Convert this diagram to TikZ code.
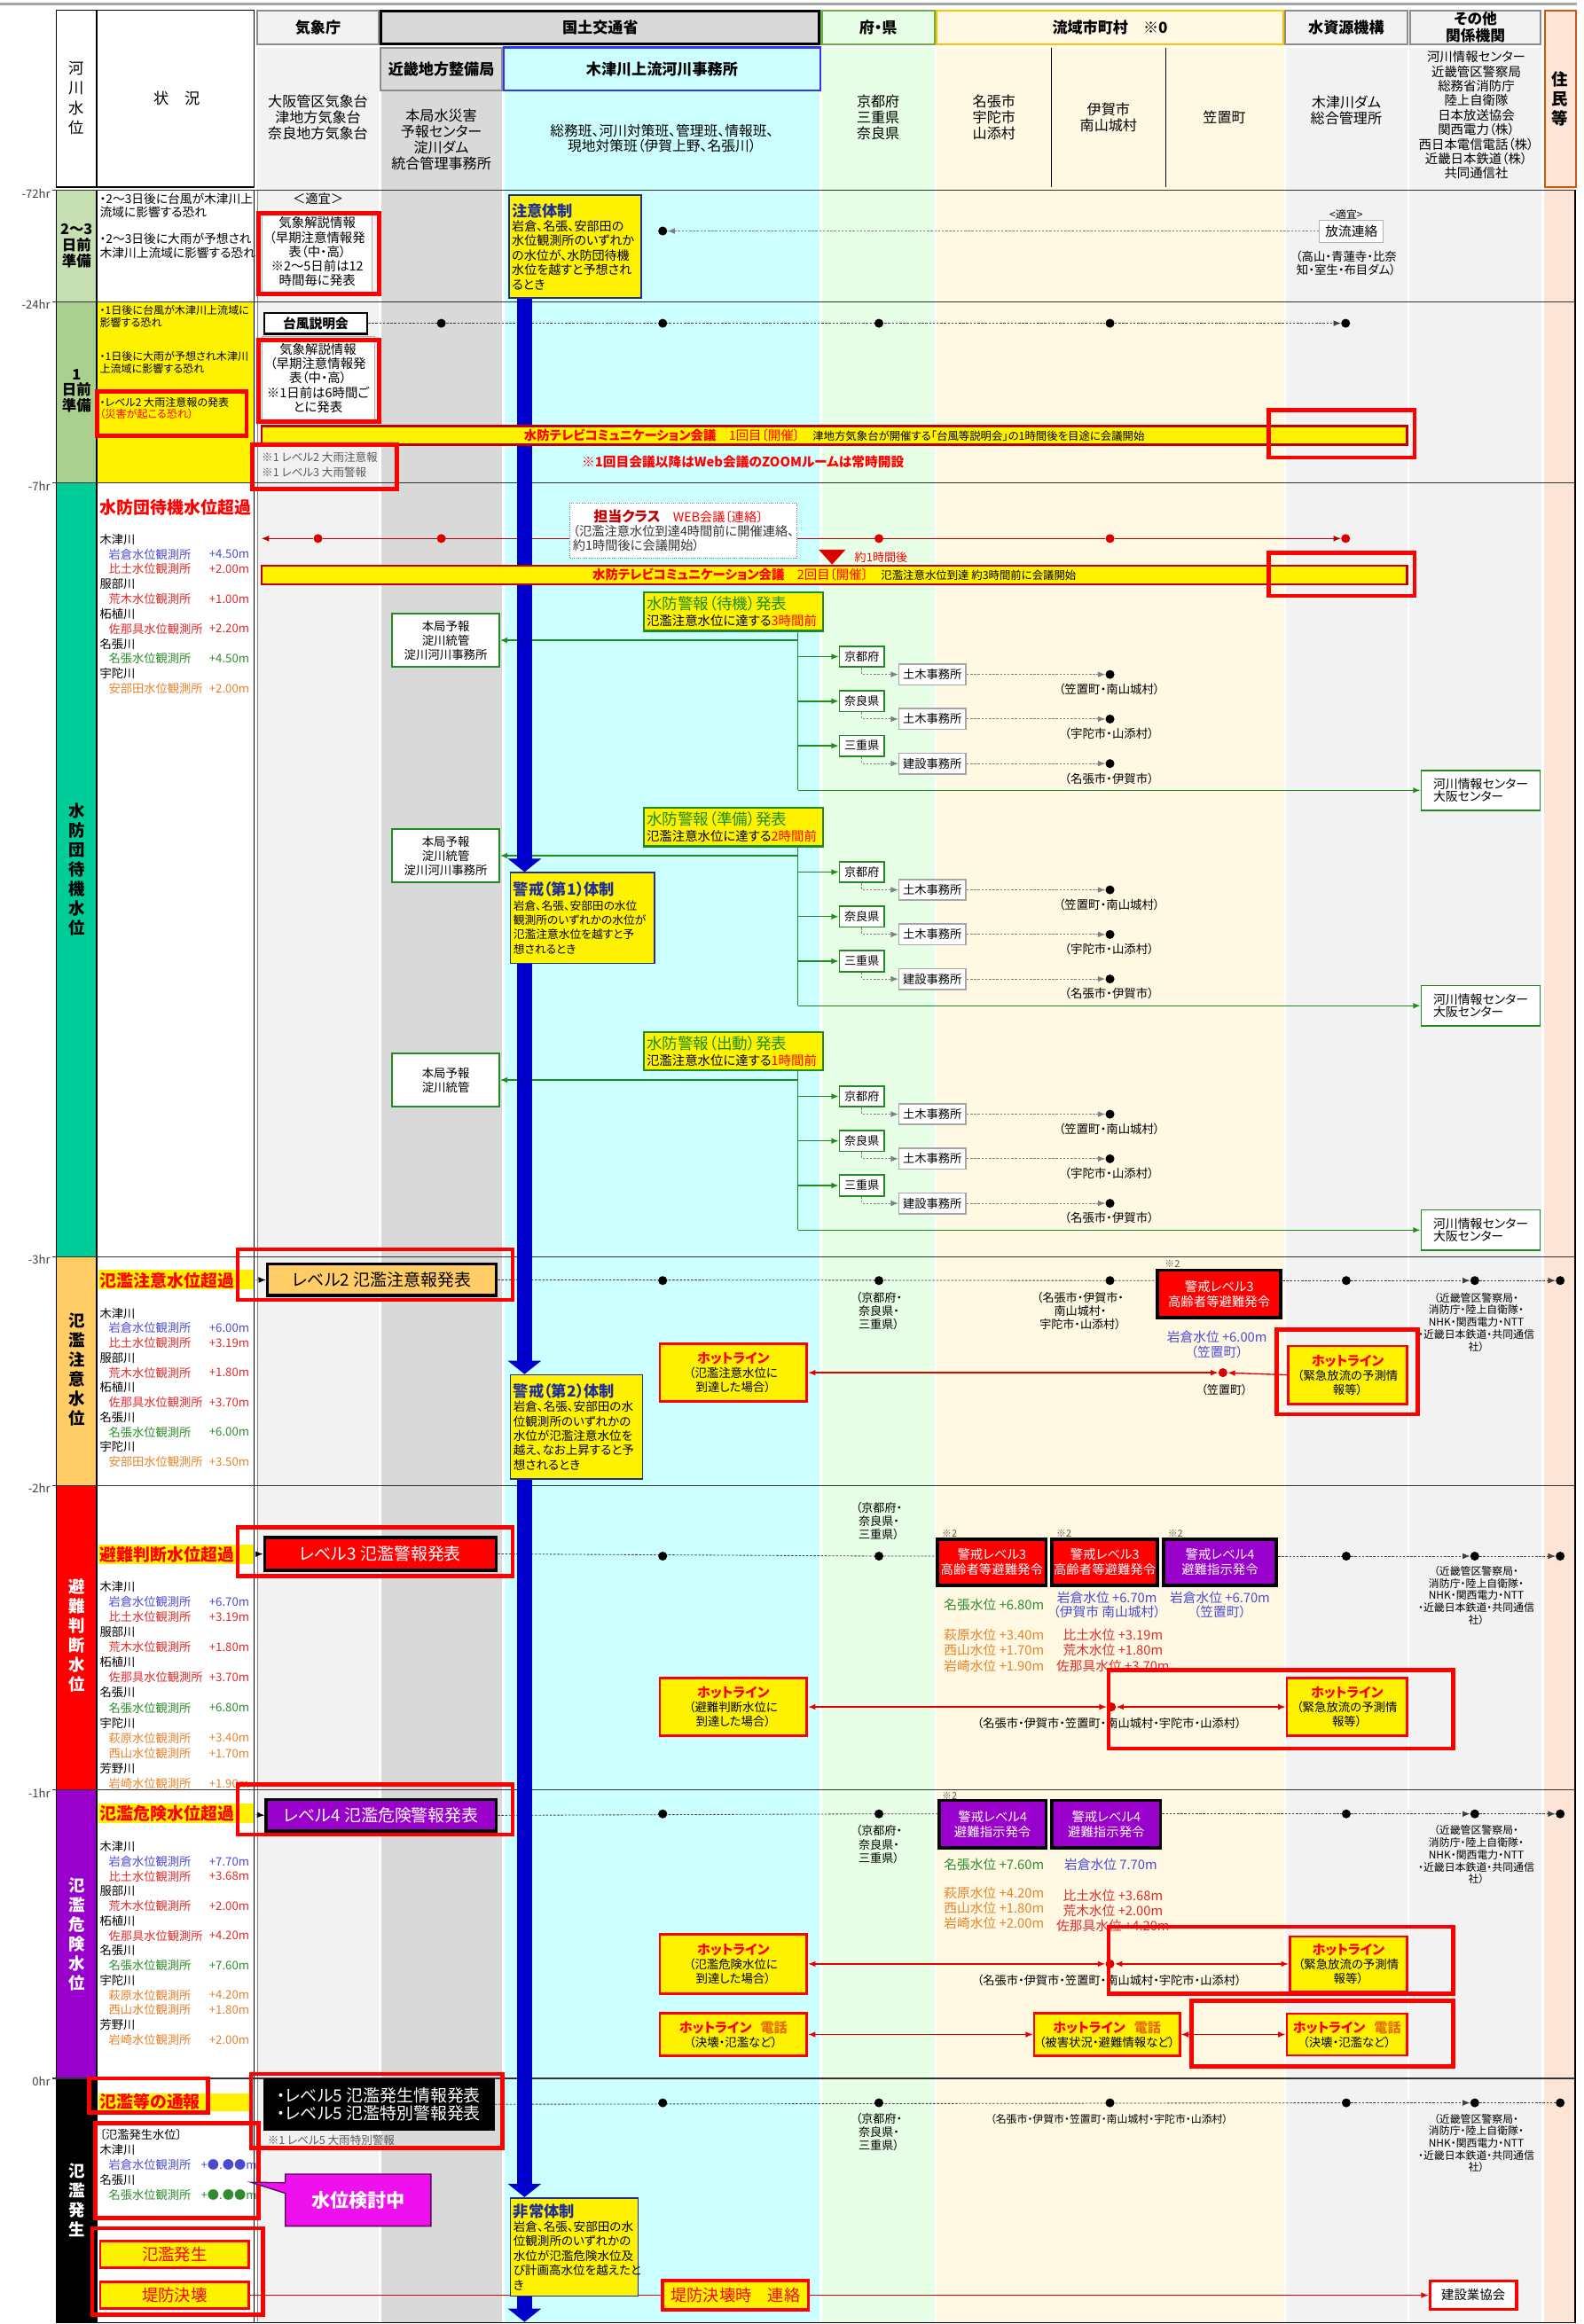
\documentclass[tikz,border=0pt]{standalone}
\usepackage{fontspec}
\setmainfont{Noto Sans CJK JP}[RawFeature=+palt]
\usetikzlibrary{arrows.meta,positioning,shapes.callouts}
\pgfdeclarelayer{cols}
\pgfdeclarelayer{under}
\pgfsetlayers{cols,under,main}

\definecolor{cjma}{HTML}{F2F2F2}
\definecolor{ckinki}{HTML}{D9D9D9}
\definecolor{ckizu}{HTML}{CCFFFF}
\definecolor{cpref}{HTML}{E6FFE6}
\definecolor{ccity}{HTML}{FFF9E3}
\definecolor{cres}{HTML}{FCE4D6}
\definecolor{cprefbd}{HTML}{70AD47}
\definecolor{ccitybd}{HTML}{FFC000}
\definecolor{cresbd}{HTML}{C55A11}
\definecolor{hdgray}{HTML}{8C8C8C}
\definecolor{lv0}{HTML}{C6E0B4}
\definecolor{lv1}{HTML}{A9D08E}
\definecolor{lv2}{HTML}{00CC99}
\definecolor{lv3}{HTML}{FFCC66}
\definecolor{lv4}{HTML}{FF0000}
\definecolor{lv5}{HTML}{9900CC}
\definecolor{ttlblue}{HTML}{1F2E99}
\definecolor{barblue}{HTML}{0000CC}
\definecolor{grn}{HTML}{1E8C1E}
\definecolor{dred}{HTML}{C00000}
\definecolor{stblue}{HTML}{4B4BD2}
\definecolor{stred}{HTML}{E02A2A}
\definecolor{stgrn}{HTML}{2E8B2E}
\definecolor{storg}{HTML}{E8822A}
\definecolor{tgray}{HTML}{595959}
\definecolor{telorg}{HTML}{E46C0A}
\definecolor{mag}{HTML}{EE11EE}

\newcommand{\fsz}[2]{\fontsize{#1pt}{#2pt}\selectfont}
\newcommand{\hotl}{{\bfseries\color{red}\fsz{9}{10}ホットライン}}
\newcommand{\telw}{{\bfseries\color{telorg}\fsz{9}{10}電話}}
\newcommand{\taititle}[1]{{\bfseries\color{ttlblue}\fsz{10.3}{11}#1}}
% station list: name, first y, step, x of values, entries
\newcommand{\stlist}[5]{%
  \foreach \dx/\cl/\nm/\val [count=\j from 0] in {#5} {
    \node[stn, text=\cl] (#1n\j) at (67+\dx,#2+\j*#3) {\nm};
    \node[stv, text=\cl] (#1v\j) at (#4,#2+\j*#3) {\val};
  }%
}

\tikzset{
  hdbox/.style    = {draw=hdgray, line width=1.3pt, inner sep=0pt, align=center, font=\bfseries\fsz{10.2}{11.5}},
  orgtxt/.style   = {inner sep=0pt, align=center, font=\fsz{9.6}{10.9}},
  lvlabel/.style  = {inner sep=0pt, align=center, font=\bfseries\fsz{11}{13.1}},
  hrlabel/.style  = {inner sep=0pt, anchor=east, font=\fsz{7.8}{8}, text=black!75},
  sit/.style      = {inner sep=0pt, anchor=west, align=left},
  stn/.style      = {inner sep=0pt, anchor=west, font=\fsz{7.9}{9}},
  stv/.style      = {inner sep=0pt, anchor=east, font=\fsz{7.9}{9}},
  headline/.style = {inner sep=0pt, anchor=west, font=\bfseries\fsz{11.3}{13}, text=red},
  redmark/.style  = {draw=red, line width=2.8pt},
  infobox/.style  = {draw=gray!60, fill=white, inner sep=1pt, align=center, font=\fsz{8.6}{9.7}},
  taisei/.style   = {draw=ttlblue, line width=1pt, fill=yellow, inner sep=2pt, anchor=north west, align=left, font=\fsz{8.4}{9.8}},
  band/.style     = {draw=dred, line width=1.4pt, fill=yellow, inner sep=0pt, font=\fsz{8.6}{9}},
  lvbox/.style    = {draw=black, line width=2pt, inner sep=0pt, font=\fsz{11.3}{12}},
  keibox/.style   = {draw=black, line width=2.2pt, inner sep=0pt, text=white, align=center, font=\fsz{8.6}{10}},
  hotbox/.style   = {draw=red, line width=1.6pt, fill=yellow, inner sep=0pt, align=center, font=\fsz{8}{9.6}},
  suibox/.style   = {draw=grn, line width=1.3pt, fill=yellow, inner sep=2pt, anchor=north west, align=left, text width=116.5pt, minimum height=26pt, font=\fsz{8.6}{11}},
  prefbox/.style  = {draw=grn, line width=1pt, fill=white, minimum width=30pt, minimum height=14pt, inner sep=0pt, font=\fsz{7.8}{9}},
  dobox/.style    = {draw=gray!70, line width=1pt, fill=white, minimum width=45pt, minimum height=14pt, inner sep=0pt, font=\fsz{7.9}{9}},
  greenbox/.style = {draw=grn, line width=1pt, fill=white, inner sep=0pt, align=center, font=\fsz{8}{9.6}},
  stw/.style      = {inner sep=0pt, align=center, font=\fsz{8.8}{10.2}},
  bdot/.style     = {circle, fill=black, inner sep=0pt, minimum size=6pt},
  rdot/.style     = {circle, fill=red!85!black, inner sep=0pt, minimum size=6pt},
  smalltxt/.style = {inner sep=0pt, align=center, font=\fsz{7.8}{9}},
  kinkitxt/.style = {inner sep=0pt, align=center, font=\fsz{7.1}{8.2}},
  note/.style     = {inner sep=0pt, font=\fsz{6.5}{7}, text=tgray},
  dotline/.style  = {black!75, line width=0.5pt, dash pattern=on 1.5pt off 1pt},
  dotg/.style     = {gray, line width=0.5pt, dash pattern=on 1.5pt off 1pt},
  redthin/.style  = {red!75!black, line width=0.5pt},
  redln/.style    = {red!90!black, line width=0.8pt},
  grnln/.style    = {grn, line width=0.9pt},
  arr/.style      = {-{Latex[length=5pt,width=4pt]}},
  biarr/.style    = {{Latex[length=5pt,width=4pt]}-{Latex[length=5pt,width=4pt]}},
  headarr/.style  = {gray!80, line width=0.6pt, dash pattern=on 3pt off 1.5pt on 1pt off 1.5pt, -{Latex[length=5pt,width=4pt,color=black]}},
  bluebar/.style  = {barblue, line width=10pt, -{Triangle[width=22pt,length=9pt]}},
}

\begin{document}
\begin{tikzpicture}[x=1pt,y=-1pt]
\useasboundingbox (0,0) rectangle (1066,1564.4);

\begin{pgfonlayer}{cols}
\fill[white] (0,0) rectangle (1066,1564.4);
\draw[gray!70, line width=2pt] (0,2.5) -- (1061,2.5);
\fill[cjma]   (173,32) rectangle (255,1564);
\fill[ckinki] (256.5,32) rectangle (338,1564);
\fill[ckizu]  (339.5,32) rectangle (551.5,1564);
\fill[cpref]  (553,32) rectangle (629,1564);
\fill[ccity]  (630.5,32) rectangle (864,1564);
\fill[cjma]   (865.5,32) rectangle (947,1564);
\fill[cjma]   (948.5,32) rectangle (1037.5,1564);
\fill[cres]   (1039,126) rectangle (1060,1564);
\fill[lv0] (38,128) rectangle (65,203);
\fill[lv1] (38,203) rectangle (65,325);
\fill[lv2] (38,325) rectangle (65,846);
\fill[lv3] (38,846) rectangle (65,1000);
\fill[lv4] (38,1000) rectangle (65,1205);
\fill[lv5] (38,1205) rectangle (65,1399);
\fill[black] (38,1399) rectangle (65,1564);
\fill[yellow] (65,203) rectangle (171,325);
\draw[line width=0.8pt] (38,7) rectangle (171,126) (65,7) -- (65,126);
\draw[line width=0.8pt] (38,128) -- (38,1564) (65,128) -- (65,1564) (171,128) -- (171,1564);
\draw[gray, line width=0.4pt] (173,128) -- (173,1564);
\draw[line width=0.6pt] (707.5,32) -- (707.5,126) (784.5,32) -- (784.5,126);
\foreach \y in {128,203,325,846,1000,1205,1399}
  \draw[black!80, line width=0.7pt] (35,\y) -- (1060,\y);
\draw[line width=0.7pt] (1060,128) -- (1060,1564) (38,1563.6) -- (1060,1563.6);
\end{pgfonlayer}

% header
\node[hdbox, fill=cjma, minimum width=82pt, minimum height=23pt] (hjma) at (214,18.5) {気象庁};
\node[hdbox, draw=black, line width=2pt, fill=ckinki, minimum width=295pt, minimum height=22pt] (hmlit) at (404,18.5) {国土交通省};
\node[hdbox, draw=cprefbd, fill=cpref, minimum width=76pt, minimum height=23pt] (hpref) at (591,18.5) {府・県};
\node[hdbox, draw=ccitybd, fill=ccity, minimum width=233pt, minimum height=23pt] (hcity) at (747,18.5) {流域市町村　※0};
\node[hdbox, fill=cjma, minimum width=82pt, minimum height=23pt] (hwater) at (906,18.5) {水資源機構};
\node[hdbox, fill=cjma, minimum width=88pt, minimum height=23pt, font=\bfseries\fsz{10}{11.5}] (hother) at (993,18.5) {その他\\関係機関};
\node[hdbox, draw=cresbd, fill=cres, minimum width=21pt, minimum height=119pt, font=\bfseries\fsz{11}{13}] (hres) at (1050,66.5) {住\\民\\等};
\node[hdbox, fill=ckinki, minimum width=82pt, minimum height=29pt] (hkinki) at (297,46.5) {近畿地方整備局};
\node[hdbox, draw=blue!80, line width=1.5pt, fill=ckizu, minimum width=213pt, minimum height=29pt] (hkizu) at (445.5,46.5) {木津川上流河川事務所};
\node[orgtxt] (tjma) at (214,79) {大阪管区気象台\\津地方気象台\\奈良地方気象台};
\node[orgtxt, font=\fsz{9.6}{10.7}] (tkinki) at (297,94) {本局水災害\\予報センター\\淀川ダム\\統合管理事務所};
\node[orgtxt, font=\fsz{9.4}{10}] (tkizu) at (445.5,93) {総務班、河川対策班、管理班、情報班、\\現地対策班（伊賀上野、名張川）};
\node[orgtxt] (tpref) at (591,79) {京都府\\三重県\\奈良県};
\node[orgtxt] (tcity1) at (669,79) {名張市\\宇陀市\\山添村};
\node[orgtxt] (tcity2) at (746,79) {伊賀市\\南山城村};
\node[orgtxt] (tcity3) at (824,79) {笠置町};
\node[orgtxt] (twater) at (906,74) {木津川ダム\\総合管理所};
\node[orgtxt, font=\fsz{8.6}{9.8}] (tother) at (993.5,77.5) {河川情報センター\\近畿管区警察局\\総務省消防庁\\陸上自衛隊\\日本放送協会\\関西電力（株）\\西日本電信電話（株）\\近畿日本鉄道（株）\\共同通信社};
\node[orgtxt, font=\fsz{10.3}{13.2}] (lhd) at (51.5,66) {河\\川\\水\\位};
\node[orgtxt, font=\fsz{10.3}{12}] (shd) at (119,66.5) {状　況};

% time marks and water levels
\node[hrlabel] (hr72) at (34,130) {-72hr};
\node[hrlabel] (hr24) at (34,205) {-24hr};
\node[hrlabel] (hr7) at (34,327) {-7hr};
\node[hrlabel] (hr3) at (34,848) {-3hr};
\node[hrlabel] (hr2) at (34,1002) {-2hr};
\node[hrlabel] (hr1) at (34,1207) {-1hr};
\node[hrlabel] (hr0) at (34,1401) {0hr};
\node[lvlabel, font=\bfseries\fsz{9.8}{10.6}] (l0) at (51.5,165.5) {2～3\\日前\\準備};
\node[lvlabel, font=\bfseries\fsz{9.8}{10.6}] (l1) at (51.5,263) {1\\日前\\準備};
\node[lvlabel] (l2) at (51.5,585) {水\\防\\団\\待\\機\\水\\位};
\node[lvlabel] (l3) at (51.5,922) {氾\\濫\\注\\意\\水\\位};
\node[lvlabel, text=white] (l4) at (51.5,1101) {避\\難\\判\\断\\水\\位};
\node[lvlabel, text=white] (l5) at (51.5,1302) {氾\\濫\\危\\険\\水\\位};
\node[lvlabel, text=white] (l6) at (51.5,1481) {氾\\濫\\発\\生};

% -72hr ~ -24hr
\node[sit, font=\fsz{8.2}{9}] (s1a) at (67,138.5) {・2～3日後に台風が木津川上\\流域に影響する恐れ};
\node[sit, font=\fsz{8.2}{9}] (s1b) at (67,165.5) {・2～3日後に大雨が予想され\\木津川上流域に影響する恐れ};
\node[smalltxt, font=\fsz{8.5}{9}] (tekigi1) at (214,134) {＜適宜＞};
\node[infobox, minimum width=74pt, minimum height=54pt] (kai1) at (213.5,169.5) {気象解説情報\\（早期注意情報発\\表（中・高）\\※2～5日前は12\\時間毎に発表};
\draw[redmark] (174,143.5) rectangle (255,198);
\node[taisei, text width=85pt, minimum height=69pt] (chui) at (342,131) {\taititle{注意体制}\\岩倉、名張、安部田の\\水位観測所のいずれか\\の水位が、水防団待機\\水位を越すと予想され\\るとき};
\node[bdot] (r1d1) at (446,155.5) {};
\node[smalltxt, font=\fsz{7.2}{8}] (tekigi2) at (906,144.5) {<適宜>};
\node[infobox, font=\fsz{8.8}{10}, minimum width=43pt, minimum height=15pt] (houryu) at (909.5,155.5) {放流連絡};
\node[smalltxt, font=\fsz{8}{9}] (dams) at (906,177) {（高山・青蓮寺・比奈\\知・室生・布目ダム）};

% -24hr ~ -7hr
\node[sit, font=\fsz{7.2}{8}] (s2a) at (67,213) {・1日後に台風が木津川上流域に\\影響する恐れ};
\node[sit, font=\fsz{7.2}{8}] (s2b) at (67,244) {・1日後に大雨が予想され木津川\\上流域に影響する恐れ};
\node[sit, font=\fsz{7.2}{8}] (s2c) at (67,275) {・レベル2 大雨注意報の発表\\\textcolor{red}{（災害が起こる恐れ）}};
\draw[redmark] (65.5,263.5) rectangle (166,293.5);
\node[infobox, draw=black, line width=1.5pt, font=\bfseries\fsz{8.8}{10}, minimum width=69pt, minimum height=14pt] (typhoon) at (212.5,217.6) {台風説明会};
\node[bdot] (r2d1) at (297,217.6) {};
\node[bdot] (r2d2) at (446,217.6) {};
\node[bdot] (r2d3) at (591.5,217.6) {};
\node[bdot] (r2d4) at (747,217.6) {};
\node[bdot] (r2d5) at (905.6,217.6) {};
\node[infobox, minimum width=76pt, minimum height=56pt] (kai2) at (214,254.5) {気象解説情報\\（早期注意情報発\\表（中・高）\\※1日前は6時間ご\\とに発表};
\draw[redmark] (174,229) rectangle (255,284);
\node[band, minimum width=771pt, minimum height=12.5pt] (tv1) at (561.5,293) {{\bfseries\textcolor{red}{水防テレビコミュニケーション会議}}\textcolor{red}{　1回目〔開催〕}　{\fsz{7.4}{9}津地方気象台が開催する「台風等説明会」の1時間後を目途に会議開始}};
\draw[redmark] (854,276) rectangle (952,308);
\node[sit, font=\fsz{7.5}{10}, text=tgray] (note1) at (176,313) {※1 レベル2 大雨注意報\\※1 レベル3 大雨警報};
\draw[redmark] (170,299.5) rectangle (267,329);
\node[inner sep=0pt, font=\bfseries\fsz{8.8}{10}, text=red] (zoomnote) at (500,311) {※1回目会議以降はWeb会議のZOOMルームは常時開設};

% -7hr ~ -3hr
\node[headline] (r3h) at (67,341.5) {水防団待機水位超過};
\stlist{r3}{363}{10.05}{168}{0/black/木津川/{}, 6/stblue/岩倉水位観測所/+4.50m, 6/stred/比土水位観測所/+2.00m, 0/black/服部川/{}, 6/stred/荒木水位観測所/+1.00m, 0/black/柘植川/{}, 6/stred/佐那具水位観測所/+2.20m, 0/black/名張川/{}, 6/stgrn/名張水位観測所/+4.50m, 0/black/宇陀川/{}, 6/storg/安部田水位観測所/+2.00m}
\coordinate (r3end) at (176,362.5);
\node[rdot] (r3d1) at (214,362.5) {};
\node[rdot] (r3d2) at (297,362.5) {};
\node[rdot] (r3d3) at (591.5,362.5) {};
\node[rdot] (r3d4) at (747,362.5) {};
\node[rdot] (r3d5) at (905.6,362.5) {};
\node[draw=gray, densely dotted, fill=white, inner sep=2pt, align=left, font=\fsz{8.5}{9.6}, text=black!80, minimum width=152pt, minimum height=37pt] (tanto) at (460,357) {\hspace*{14pt}{\bfseries\fsz{9.5}{10}\textcolor{dred}{担当クラス}}\textcolor{red}{　WEB会議〔連絡〕}\\（氾濫注意水位到達4時間前に開催連絡、\\約1時間後に会議開始）};
\fill[red!85!black] (551,370) -- (569,370) -- (560,380) -- cycle;
\node[inner sep=0pt, anchor=west, font=\fsz{7.8}{8}, text=red] (yaku1) at (575,375) {約1時間後};
\node[band, minimum width=771pt, minimum height=12.5pt] (tv2) at (561.5,387) {{\bfseries\textcolor{red}{水防テレビコミュニケーション会議}}\textcolor{red}{　2回目〔開催〕}　{\fsz{7.4}{9}氾濫注意水位到達 約3時間前に会議開始}};
\draw[redmark] (854,372) rectangle (952,401);
\foreach \ty/\g/\kind/\hrs/\hq in {398/a/待機/3/{本局予報\\淀川統管\\淀川河川事務所},543/b/準備/2/{本局予報\\淀川統管\\淀川河川事務所},694/c/出動/1/{本局予報\\淀川統管}} {
  \node[suibox] (sui\g) at (432.5,\ty) {{\color{grn}\fsz{10.5}{12}水防警報（\kind）発表}\\氾濫注意水位に達する\textcolor{red}{\hrs 時間前}};
  \coordinate (br\g) at (537,\ty+33);
  \coordinate (bt\g) at (537,\ty+134);
  \node[greenbox, minimum width=72pt, minimum height=36pt] (hq\g) at (300,\ty+33) {\hq};
  \node[prefbox] (kyo\g) at (580,\ty+44) {京都府};
  \node[prefbox] (nar\g) at (580,\ty+74) {奈良県};
  \node[prefbox] (mie\g) at (580,\ty+104) {三重県};
  \node[dobox] (do1\g) at (627.5,\ty+56) {土木事務所};
  \node[dobox] (do2\g) at (627.5,\ty+86) {土木事務所};
  \node[dobox] (do3\g) at (627.5,\ty+116) {建設事務所};
  \node[bdot] (e1\g) at (747,\ty+56) {};
  \node[bdot] (e2\g) at (747,\ty+86) {};
  \node[bdot] (e3\g) at (747,\ty+116) {};
  \node[smalltxt, font=\fsz{8}{9}] (f1\g) at (746.5,\ty+66) {（笠置町・南山城村）};
  \node[smalltxt, font=\fsz{8}{9}] (f2\g) at (746.5,\ty+96) {（宇陀市・山添村）};
  \node[smalltxt, font=\fsz{8}{9}] (f3\g) at (746.5,\ty+126) {（名張市・伊賀市）};
  \node[greenbox, minimum width=80pt, minimum height=27pt, align=left, font=\fsz{8.3}{8}] (rc\g) at (996.5,\ty+134) {河川情報センター\\大阪センター};
}
\node[taisei, text width=93pt, minimum height=61pt, font=\fsz{7.6}{9.8}] (kei1) at (343,587) {\taititle{警戒（第1）体制}\\岩倉、名張、安部田の水位\\観測所のいずれかの水位が\\氾濫注意水位を越すと予\\想されるとき};

% -3hr ~ -2hr
\fill[yellow] (66,855) rectangle (171,868);
\node[headline] (r4h) at (67,862) {氾濫注意水位超過};
\stlist{r4}{884}{10}{168}{0/black/木津川/{}, 6/stblue/岩倉水位観測所/+6.00m, 6/stred/比土水位観測所/+3.19m, 0/black/服部川/{}, 6/stred/荒木水位観測所/+1.80m, 0/black/柘植川/{}, 6/stred/佐那具水位観測所/+3.70m, 0/black/名張川/{}, 6/stgrn/名張水位観測所/+6.00m, 0/black/宇陀川/{}, 6/storg/安部田水位観測所/+3.50m}
\node[lvbox, fill=lv3, minimum width=154pt, minimum height=21pt] (lv2box) at (257,861.5) {レベル2 氾濫注意報発表};
\draw[redmark] (160,841) rectangle (345,875);
\node[bdot] (r4d1) at (446,862) {};
\node[bdot] (r4d2) at (591.5,862) {};
\node[bdot] (r4d3) at (747,862) {};
\node[keibox, fill=lv4, minimum width=83pt, minimum height=32pt] (r4k) at (820.5,871) {警戒レベル3\\高齢者等避難発令};
\node[bdot] (r4d4) at (906,862) {};
\node[bdot] (r4d5) at (992.5,862) {};
\node[bdot] (r4d6) at (1050,862) {};
\node[note] (r4n) at (789,851) {※2};
\node[smalltxt] (r4p) at (591.5,882.5) {（京都府・\\奈良県・\\三重県）};
\node[smalltxt] (r4c) at (727,882.5) {（名張市・伊賀市・\\南山城村・\\宇陀市・山添村）};
\node[kinkitxt] (r4o) at (993.5,890) {（近畿管区警察局・\\消防庁・陸上自衛隊・\\NHK・関西電力・NTT\\・近畿日本鉄道・共同通信\\社）};
\node[stw, font=\fsz{8.8}{10}, text=stblue] (r4w) at (819,905) {岩倉水位 +6.00m\\（笠置町）};
\node[hotbox, minimum width=99pt, minimum height=39pt] (r4hl) at (493.5,924) {\hotl\\（氾濫注意水位に\\到達した場合）};
\node[rdot] (r4kd) at (823,924) {};
\node[smalltxt] (r4kl) at (824,935.5) {（笠置町）};
\node[hotbox, minimum width=80pt, minimum height=39pt] (r4hr) at (907,925.5) {\hotl\\（緊急放流の予測情\\報等）};
\draw[redmark] (859,895) rectangle (954,952);
\node[taisei, text width=85pt, minimum height=70pt, font=\fsz{8.1}{9.8}] (kei2) at (343,925) {\taititle{警戒（第2）体制}\\岩倉、名張、安部田の水\\位観測所のいずれかの\\水位が氾濫注意水位を\\越え、なお上昇すると予\\想されるとき};

% -2hr ~ -1hr
\fill[yellow] (66,1040) rectangle (171,1053);
\node[headline] (r5h) at (67,1046.5) {避難判断水位超過};
\stlist{r5}{1068}{10.2}{168}{0/black/木津川/{}, 6/stblue/岩倉水位観測所/+6.70m, 6/stred/比土水位観測所/+3.19m, 0/black/服部川/{}, 6/stred/荒木水位観測所/+1.80m, 0/black/柘植川/{}, 6/stred/佐那具水位観測所/+3.70m, 0/black/名張川/{}, 6/stgrn/名張水位観測所/+6.80m, 0/black/宇陀川/{}, 6/storg/萩原水位観測所/+3.40m, 6/storg/西山水位観測所/+1.70m, 0/black/芳野川/{}, 6/storg/岩崎水位観測所/+1.90m}
\node[lvbox, fill=lv4, text=white, minimum width=156pt, minimum height=22pt] (lv3box) at (256,1046) {レベル3 氾濫警報発表};
\draw[redmark] (160,1028) rectangle (345,1061);
\node[bdot] (r5d1) at (446,1047.5) {};
\node[bdot] (r5d2) at (591.5,1047.5) {};
\node[keibox, fill=lv4, minimum width=73pt, minimum height=31pt] (r5ka) at (667.5,1051.5) {警戒レベル3\\高齢者等避難発令};
\node[keibox, fill=lv4, minimum width=71pt, minimum height=31pt] (r5kb) at (743.5,1051.5) {警戒レベル3\\高齢者等避難発令};
\node[keibox, fill=lv5, minimum width=76pt, minimum height=31pt] (r5kc) at (821,1051.5) {警戒レベル4\\避難指示発令};
\node[bdot] (r5d3) at (906,1047.5) {};
\node[bdot] (r5d4) at (992.5,1047.5) {};
\node[bdot] (r5d5) at (1050,1047.5) {};
\node[note] (r5na) at (639,1032.5) {※2};
\node[note] (r5nb) at (716,1032.5) {※2};
\node[note] (r5nc) at (791,1032.5) {※2};
\node[smalltxt] (r5p) at (591.5,1024) {（京都府・\\奈良県・\\三重県）};
\node[stw, text=stgrn] (r5wa) at (669,1080) {名張水位 +6.80m};
\node[stw, text=storg] (r5xa) at (669,1111) {萩原水位 +3.40m\\西山水位 +1.70m\\岩崎水位 +1.90m};
\node[stw, font=\fsz{8.8}{9.6}, text=stblue] (r5wb) at (745,1080.5) {岩倉水位 +6.70m\\（伊賀市 南山城村）};
\node[stw, text=stred] (r5xb) at (749,1111) {比土水位 +3.19m\\荒木水位 +1.80m\\佐那具水位 +3.70m};
\node[stw, font=\fsz{8.8}{9.6}, text=stblue] (r5wc) at (821,1080.5) {岩倉水位 +6.70m\\（笠置町）};
\node[kinkitxt] (r5o) at (993.5,1074) {（近畿管区警察局・\\消防庁・陸上自衛隊・\\NHK・関西電力・NTT\\・近畿日本鉄道・共同通信\\社）};
\node[hotbox, minimum width=99pt, minimum height=39pt] (r5hl) at (493.5,1149) {\hotl\\（避難判断水位に\\到達した場合）};
\node[rdot] (r5kd) at (748,1149) {};
\node[hotbox, minimum width=81pt, minimum height=39pt] (r5hr) at (906.5,1149) {\hotl\\（緊急放流の予測情\\報等）};
\node[smalltxt, font=\fsz{7.9}{8}] (r5cl) at (746.5,1160) {（名張市・伊賀市・笠置町・南山城村・宇陀市・山添村）};
\draw[redmark] (746,1124) rectangle (978,1177);

% -1hr ~ 0hr
\fill[yellow] (66,1214) rectangle (171,1227);
\node[headline] (r6h) at (67,1220.5) {氾濫危険水位超過};
\stlist{r6}{1243}{10}{168}{0/black/木津川/{}, 6/stblue/岩倉水位観測所/+7.70m, 6/stred/比土水位観測所/+3.68m, 0/black/服部川/{}, 6/stred/荒木水位観測所/+2.00m, 0/black/柘植川/{}, 6/stred/佐那具水位観測所/+4.20m, 0/black/名張川/{}, 6/stgrn/名張水位観測所/+7.60m, 0/black/宇陀川/{}, 6/storg/萩原水位観測所/+4.20m, 6/storg/西山水位観測所/+1.80m, 0/black/芳野川/{}, 6/storg/岩崎水位観測所/+2.00m}
\node[lvbox, fill=lv5, text=white, minimum width=155pt, minimum height=21pt] (lv4box) at (256.5,1222) {レベル4 氾濫危険警報発表};
\draw[redmark] (160,1201) rectangle (345,1235);
\node[bdot] (r6d1) at (446,1221) {};
\node[bdot] (r6d2) at (591.5,1221) {};
\node[keibox, fill=lv5, minimum width=72pt, minimum height=32pt] (r6ka) at (668,1228) {警戒レベル4\\避難指示発令};
\node[keibox, fill=lv5, minimum width=73pt, minimum height=32pt] (r6kb) at (744.5,1228) {警戒レベル4\\避難指示発令};
\node[bdot] (r6d3) at (906,1221) {};
\node[bdot] (r6d4) at (992.5,1221) {};
\node[bdot] (r6d5) at (1050,1221) {};
\node[note] (r6na) at (639,1209) {※2};
\node[smalltxt] (r6p) at (591.5,1241.5) {（京都府・\\奈良県・\\三重県）};
\node[stw, text=stgrn] (r6wa) at (669,1255) {名張水位 +7.60m};
\node[stw, text=storg] (r6xa) at (669,1284.3) {萩原水位 +4.20m\\西山水位 +1.80m\\岩崎水位 +2.00m};
\node[stw, text=stblue] (r6wb) at (747.5,1255) {岩倉水位 7.70m};
\node[stw, text=stred] (r6xb) at (749,1286) {比土水位 +3.68m\\荒木水位 +2.00m\\佐那具水位 +4.20m};
\node[kinkitxt] (r6o) at (993.5,1248.5) {（近畿管区警察局・\\消防庁・陸上自衛隊・\\NHK・関西電力・NTT\\・近畿日本鉄道・共同通信\\社）};
\node[hotbox, minimum width=99pt, minimum height=40pt] (r6hl) at (493.5,1322) {\hotl\\（氾濫危険水位に\\到達した場合）};
\node[rdot] (r6kd) at (747,1322) {};
\node[hotbox, minimum width=79pt, minimum height=37pt] (r6hr) at (907.5,1322) {\hotl\\（緊急放流の予測情\\報等）};
\node[smalltxt, font=\fsz{7.9}{8}] (r6cl) at (746.5,1333) {（名張市・伊賀市・笠置町・南山城村・宇陀市・山添村）};
\draw[redmark] (746,1297) rectangle (978,1342);
\node[hotbox, minimum width=99pt, minimum height=29pt] (r6tl) at (493.5,1369.5) {\hotl\hspace{6pt}\telw\\（決壊・氾濫など）};
\node[hotbox, minimum width=98pt, minimum height=29pt] (r6tm) at (745,1369.5) {\hotl\hspace{6pt}\telw\\（被害状況・避難情報など）};
\node[hotbox, minimum width=81pt, minimum height=28pt] (r6tr) at (906.5,1369.5) {\hotl\hspace{6pt}\telw\\（決壊・氾濫など）};
\draw[redmark] (802,1347) rectangle (978,1391);

% 0hr ~
\fill[yellow] (66,1409) rectangle (169,1421);
\node[headline] (r7h) at (67,1415) {氾濫等の通報};
\draw[redmark] (60,1399) rectangle (140,1422);
\stlist{r7}{1437}{10.2}{173}{0/black/〔氾濫発生水位〕/{}, 0/black/木津川/{}, 6/stblue/岩倉水位観測所/+●.●●m, 0/black/名張川/{}, 6/stgrn/名張水位観測所/+●.●●m}
\draw[redmark] (64,1429) rectangle (174,1493);
\node[lvbox, fill=black, text=white, minimum width=154pt, minimum height=33pt, align=left, font=\fsz{11.3}{10}] (lv5box) at (255,1416.5) {・レベル5 氾濫発生情報発表\\・レベル5 氾濫特別警報発表};
\node[sit, font=\fsz{7.5}{8}, text=tgray] (note5) at (180,1440.5) {※1 レベル5 大雨特別警報};
\draw[redmark] (169,1396) rectangle (338,1446);
\node[bdot] (r7d1) at (446,1415.5) {};
\node[bdot] (r7d2) at (591.5,1415.5) {};
\node[bdot] (r7d3) at (747,1415.5) {};
\node[bdot] (r7d4) at (906,1415.5) {};
\node[bdot] (r7d5) at (992.5,1415.5) {};
\node[bdot] (r7d6) at (1050,1415.5) {};
\node[smalltxt] (r7p) at (591.5,1435) {（京都府・\\奈良県・\\三重県）};
\node[smalltxt, font=\fsz{7.1}{8}] (r7c) at (746.5,1426.5) {（名張市・伊賀市・笠置町・南山城村・宇陀市・山添村）};
\node[kinkitxt] (r7o) at (993.5,1442.6) {（近畿管区警察局・\\消防庁・陸上自衛隊・\\NHK・関西電力・NTT\\・近畿日本鉄道・共同通信\\社）};
\coordinate (cpt) at (169,1469);
\node[rectangle callout, callout absolute pointer={(cpt)}, fill=mag, draw=violet!70!black, line width=0.8pt, minimum width=98pt, minimum height=35pt, inner sep=0pt, text=white, font=\bfseries\fsz{12.6}{14}] (kento) at (241,1481) {水位検討中};
\node[draw=red, line width=1.5pt, fill=yellow, text=red, minimum width=100pt, minimum height=18pt, inner sep=0pt, font=\fsz{11}{12}] (hanran) at (117.5,1517.5) {氾濫発生};
\node[draw=red, line width=1.5pt, fill=yellow, text=red, minimum width=100pt, minimum height=18pt, inner sep=0pt, font=\fsz{11}{12}] (kekkai) at (117.5,1545) {堤防決壊};
\draw[redmark] (62,1500) rectangle (177,1558);
\node[taisei, text width=82pt, minimum height=66pt, font=\fsz{8.1}{9.8}] (hijo) at (343,1479) {\taititle{非常体制}\\岩倉、名張、安部田の水\\位観測所のいずれかの\\水位が氾濫危険水位及\\び計画高水位を越えたと\\き};
\node[draw=red, line width=2.2pt, fill=yellow, text=red, minimum width=98pt, minimum height=20pt, inner sep=0pt, font=\fsz{10.9}{12}] (kekkaitel) at (495,1545) {堤防決壊時　連絡};
\node[draw=red, line width=2.2pt, fill=white, minimum width=58pt, minimum height=19pt, inner sep=0pt, font=\fsz{8.6}{10}] (kengyo) at (991.5,1545) {建設業協会};
\coordinate (barx) at (353,0);
\coordinate (barend) at (353,1563);

\begin{pgfonlayer}{under}
\draw[dotg, arr] (houryu.west) -- (r1d1);
\draw[dotline] (typhoon.east) -- (r2d4);
\draw[dotline, arr] (r2d4) -- (r2d5);
\draw[redthin, arr] (r3d1) -- (r3end);
\draw[redthin] (r3d1) -- (r3d4);
\draw[redthin, arr] (r3d4) -- (r3d5);
\foreach \g in {a,b,c} {
  \draw[grnln, arr] (br\g) -- (hq\g.east);
  \draw[grnln] (sui\g.south -| br\g) -- (bt\g);
  \draw[grnln, arr] (kyo\g.west -| br\g) -- (kyo\g.west);
  \draw[grnln, arr] (nar\g.west -| br\g) -- (nar\g.west);
  \draw[grnln, arr] (mie\g.west -| br\g) -- (mie\g.west);
  \draw[grnln, arr] (bt\g) -- (rc\g.west);
  \draw[dotg, arr] (kyo\g.south) |- (do1\g.west);
  \draw[dotg, arr] (nar\g.south) |- (do2\g.west);
  \draw[dotg, arr] (mie\g.south) |- (do3\g.west);
  \draw[dotg, arr] (do1\g.east) -- (e1\g);
  \draw[dotg, arr] (do2\g.east) -- (e2\g);
  \draw[dotg, arr] (do3\g.east) -- (e3\g);
}
% rows -3hr ~ 0hr
\draw[headarr] (r4h.east) -- (lv2box.west);
\draw[dotline] (lv2box.east) -- (r4d3) -- (r4d3 -| r4k.west);
\draw[dotline] (r4d3 -| r4k.east) -- (r4d4);
\draw[dotline, arr] (r4d4) -- (r4d5);
\draw[dotline, arr] (r4d5) -- (r4d6);
\draw[redln, biarr] (r4hl.east) -- (r4kd);
\draw[redln, arr] (r4hr.west) -- (r4kd);
\draw[headarr] (r5h.east) -- (lv3box.west);
\draw[dotline] (lv3box.east) -- (r5d2) -- (r5d2 -| r5ka.west);
\draw[dotline] (r5d2 -| r5kc.east) -- (r5d3);
\draw[dotline, arr] (r5d3) -- (r5d4);
\draw[dotline, arr] (r5d4) -- (r5d5);
\draw[redln, biarr] (r5hl.east) -- (r5kd);
\draw[redln, biarr] (r5kd) -- (r5hr.west);
\draw[headarr] (r6h.east) -- (lv4box.west);
\draw[dotline] (lv4box.east) -- (r6d2) -- (r6d2 -| r6ka.west);
\draw[dotline] (r6d2 -| r6kb.east) -- (r6d3);
\draw[dotline, arr] (r6d3) -- (r6d4);
\draw[dotline, arr] (r6d4) -- (r6d5);
\draw[redln, biarr] (r6hl.east) -- (r6kd);
\draw[redln, biarr] (r6kd) -- (r6hr.west);
\draw[redln, biarr] (r6tl.east) -- (r6tm.west);
\draw[redln, biarr] (r6tm.east) -- (r6tr.west);
\draw[dotline] (lv5box.east) -- (r7d4);
\draw[dotline, arr] (r7d4) -- (r7d5);
\draw[dotline] (r7d5) -- (r7d6);
\draw[redln] (kekkai.east) -- (kekkaitel.west);
\draw[redln, arr] (kekkaitel.east) -- (kengyo.west);
% blue bar
\draw[bluebar] (chui.south -| barx) -- (kei1.north -| barx);
\draw[bluebar] (kei1.south -| barx) -- (kei2.north -| barx);
\draw[bluebar] (kei2.south -| barx) -- (hijo.north -| barx);
\draw[bluebar] (hijo.south -| barx) -- (barend);
\end{pgfonlayer}
\end{tikzpicture}
\end{document}
